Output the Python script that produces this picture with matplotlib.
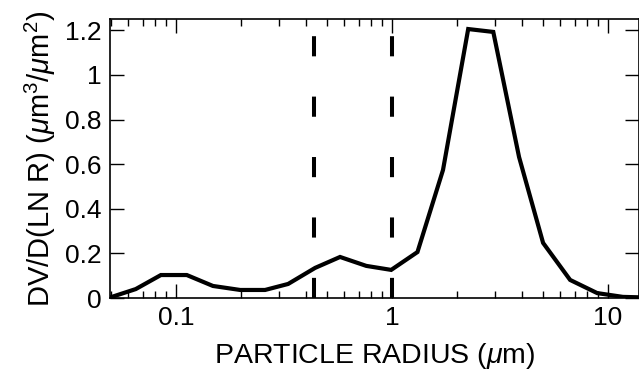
import numpy as np
import matplotlib
matplotlib.use("Agg")
import matplotlib.pyplot as plt
from matplotlib.ticker import LogLocator, FixedLocator, FuncFormatter

plt.rcParams['font.family'] = ['Liberation Sans', 'DejaVu Sans']
plt.rcParams['mathtext.fontset'] = 'custom'
plt.rcParams['mathtext.it'] = 'Liberation Sans:italic'
plt.rcParams['mathtext.rm'] = 'Liberation Sans'

# size distribution
radius = [0.050, 0.065, 0.085, 0.112, 0.148, 0.198, 0.258, 0.330, 0.440, 0.574,
          0.759, 0.99, 1.31, 1.72, 2.25, 2.94, 3.87, 5.0, 6.67, 8.9, 11.7, 15.5]
dvdlnr = [0.004, 0.040, 0.103, 0.103, 0.054, 0.036, 0.036, 0.063, 0.135, 0.184,
          0.144, 0.126, 0.206, 0.574, 1.206, 1.193, 0.632, 0.247, 0.081, 0.022,
          0.005, 0.002]
cut_radii = [0.435, 1.0]

yticks = [0, 0.2, 0.4, 0.6, 0.8, 1.0, 1.2]
xticks = [0.1, 1, 10]

fig = plt.figure(figsize=(6.39, 3.73), dpi=100)
ax = fig.add_axes([110/639, 75/373, 529/639, 279/373])

ax.plot(radius, dvdlnr, color='black', lw=3.0, solid_joinstyle='miter')
for r in cut_radii:
    ax.axvline(r, color='black', lw=2.9, dashes=(5, 10), dash_capstyle='butt')

ax.set_xscale('log')
ax.set_xlim(0.0494, 13.9)
ax.set_ylim(0, 1.251)

ax.xaxis.set_major_locator(FixedLocator(xticks))
ax.xaxis.set_major_formatter(FuncFormatter(lambda v, p: '%g' % v))
ax.xaxis.set_minor_locator(LogLocator(base=10, subs=np.arange(2, 10)))
ax.xaxis.set_minor_formatter(FuncFormatter(lambda v, p: ''))
ax.set_yticks(yticks)
ax.set_yticklabels(['%g' % v for v in yticks])

ax.tick_params(which='both', direction='in', top=True, right=True,
               labelsize=19, width=1, pad=6)
ax.tick_params(which='major', length=10)
ax.tick_params(which='minor', length=5)
for s in ax.spines.values():
    s.set_linewidth(1.2)

ax.set_xlabel(r'PARTICLE RADIUS ($\mu$m)', fontsize=20.5, labelpad=8)
ax.set_ylabel(r'DV/D(LN R) ($\mu$m$^3$/$\mu$m$^2$)', fontsize=21, labelpad=5)

fig.savefig('out.png', dpi=100)
